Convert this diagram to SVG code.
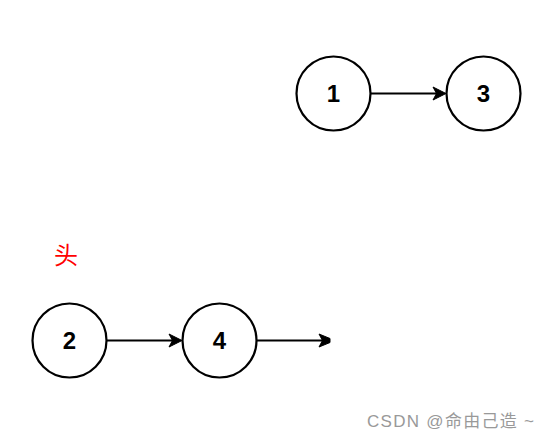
<svg xmlns="http://www.w3.org/2000/svg" width="549" height="440" viewBox="0 0 549 440">
<defs>
<style>
.n{fill:#fff;stroke:#000;stroke-width:2.2}
.t{font-family:"Liberation Sans",Arial,sans-serif;font-weight:bold;font-size:24px;text-anchor:middle;fill:#000}
.e{stroke:#000;stroke-width:2;fill:none}
.h{fill:#000;stroke:#000;stroke-width:1}
</style>
</defs>
<rect width="549" height="440" fill="#fff"/>
<g id="edges">
<line class="e" x1="371" y1="93.5" x2="440" y2="93.5"/>
<path class="h" d="M446,93.5 L433,87 L436.5,93.5 L433,100 Z"/>
<line class="e" x1="107" y1="340.5" x2="176" y2="340.5"/>
<path class="h" d="M182,340.5 L169,334 L172.5,340.5 L169,347 Z"/>
<line class="e" x1="257" y1="340.5" x2="326" y2="340.5"/>
<path class="h" d="M330,338.5 L330,342.5 L319,347 L322.5,340.5 L319,334 Z"/>
</g>
<g id="node1"><circle class="n" cx="333.5" cy="93.5" r="37"/><text class="t" x="333.5" y="102">1</text></g>
<g id="node3"><circle class="n" cx="483.5" cy="93.5" r="37"/><text class="t" x="483.5" y="102">3</text></g>
<g id="node2"><circle class="n" cx="69.5" cy="340.5" r="37"/><text class="t" x="69.5" y="349">2</text></g>
<g id="node4"><circle class="n" cx="219.5" cy="340.5" r="37"/><text class="t" x="219.5" y="349">4</text></g>
<text x="66" y="264" font-family="'Noto Sans CJK SC',sans-serif" font-size="24" fill="#ff0000" text-anchor="middle">头</text>
<text x="367" y="427" font-family="'Liberation Sans','Noto Sans CJK SC',sans-serif" font-size="17" fill="#999" textLength="167" lengthAdjust="spacing">CSDN @命由己造 ~</text>
</svg>
